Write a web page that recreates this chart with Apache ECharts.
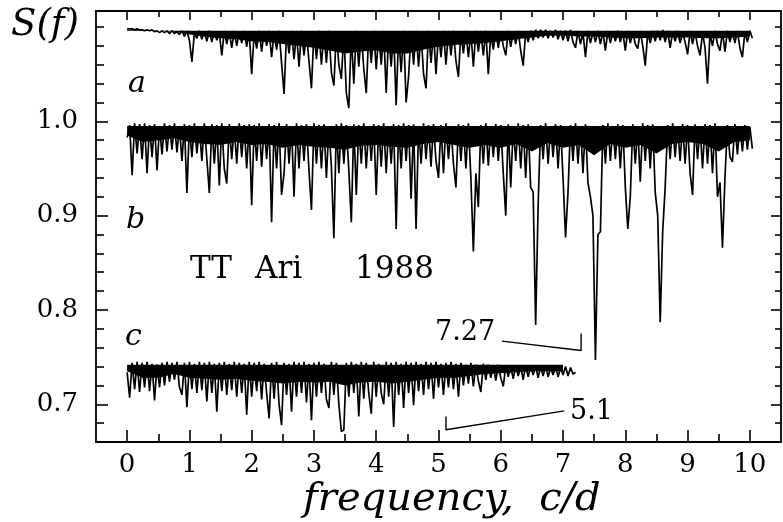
<!DOCTYPE html>
<html>
<head>
<meta charset="utf-8">
<script src="https://cdn.jsdelivr.net/npm/echarts@6/dist/echarts.min.js"></script>
<style>
  html, body { margin: 0; padding: 0; background: #fff; }
  #chart { width: 783px; height: 522px; }
</style>
</head>
<body>
<div id="chart"></div>
<script>
// frequency step of the read-off samples (c/d)
var STEP = 0.04;
// coarser step for the lower edge of the solid black core of each band
var CORE_STEP = 0.25;

// trace a, sampled from f = 0 every STEP
var traceA = [
  1.098,1.098,1.098,1.097,1.098,1.097,1.097,1.096,1.097,1.096,
  1.097,1.095,1.096,1.094,1.096,1.094,1.096,1.093,1.096,1.093,
  1.095,1.092,1.096,1.090,1.096,1.086,1.063,1.094,1.088,1.096,
  1.087,1.095,1.085,1.096,1.084,1.095,1.086,1.094,1.070,1.096,
  1.082,1.095,1.078,1.096,1.080,1.094,1.083,1.096,1.079,1.095,
  1.050,1.094,1.077,1.096,1.074,1.095,1.080,1.096,1.068,1.094,
  1.076,1.096,1.062,1.029,1.094,1.072,1.096,1.066,1.094,1.058,
  1.096,1.070,1.093,1.064,1.035,1.095,1.066,1.096,1.060,1.094,
  1.062,1.096,1.052,1.038,1.095,1.060,1.045,1.094,1.030,1.014,
  1.093,1.040,1.096,1.058,1.094,1.056,1.030,1.095,1.062,1.096,
  1.055,1.094,1.060,1.096,1.030,1.094,1.058,1.095,1.017,1.093,
  1.052,1.096,1.020,1.048,1.095,1.060,1.096,1.058,1.094,1.050,
  1.035,1.096,1.062,1.095,1.050,1.094,1.068,1.096,1.060,1.095,
  1.070,1.096,1.064,1.047,1.095,1.072,1.096,1.068,1.094,1.058,
  1.096,1.074,1.095,1.070,1.096,1.050,1.094,1.076,1.096,1.078,
  1.095,1.080,1.070,1.096,1.079,1.094,1.082,1.096,1.075,1.059,
  1.095,1.084,1.096,1.086,1.097,1.088,1.097,1.089,1.097,1.088,
  1.096,1.089,1.097,1.087,1.096,1.086,1.096,1.085,1.097,1.084,
  1.078,1.096,1.082,1.094,1.068,1.096,1.083,1.095,1.084,1.096,
  1.082,1.095,1.075,1.096,1.083,1.095,1.085,1.096,1.084,1.095,
  1.075,1.096,1.083,1.095,1.082,1.077,1.096,1.080,1.059,1.094,
  1.083,1.096,1.085,1.096,1.086,1.097,1.084,1.096,1.078,1.095,
  1.085,1.096,1.083,1.095,1.084,1.071,1.096,1.082,1.095,1.080,
  1.070,1.094,1.078,1.040,1.093,1.080,1.096,1.082,1.075,1.095,
  1.074,1.096,1.084,1.095,1.083,1.096,1.078,1.068,1.095,1.084,
  1.096,1.088
];

// trace b, sampled from f = 0 every STEP
var traceB = [
  0.983,0.996,0.943,0.998,0.966,0.997,0.960,0.998,0.945,0.996,
  0.962,0.997,0.948,0.995,0.965,0.998,0.968,0.996,0.970,0.998,
  0.967,0.995,0.958,0.997,0.924,0.996,0.962,0.998,0.966,0.995,
  0.958,0.998,0.960,0.924,0.997,0.955,0.996,0.932,0.998,0.950,
  0.934,0.997,0.960,0.995,0.955,0.998,0.962,0.996,0.950,0.997,
  0.911,0.996,0.958,0.998,0.952,0.995,0.960,0.997,0.893,0.996,
  0.950,0.998,0.922,0.945,0.997,0.955,0.995,0.920,0.998,0.950,
  0.996,0.958,0.997,0.948,0.906,0.998,0.955,0.996,0.950,0.997,
  0.940,0.995,0.952,0.876,0.997,0.945,0.998,0.955,0.996,0.948,
  0.893,0.997,0.922,0.996,0.955,0.998,0.950,0.995,0.958,0.997,
  0.922,0.996,0.952,0.998,0.945,0.995,0.955,0.997,0.886,0.996,
  0.950,0.998,0.958,0.996,0.918,0.997,0.886,0.995,0.955,0.998,
  0.960,0.996,0.952,0.997,0.958,0.940,0.996,0.945,0.998,0.960,
  0.995,0.955,0.930,0.997,0.958,0.996,0.950,0.998,0.940,0.862,
  0.945,0.909,0.996,0.955,0.998,0.953,0.995,0.962,0.997,0.958,
  0.996,0.945,0.900,0.997,0.930,0.995,0.958,0.998,0.950,0.996,
  0.940,0.997,0.930,0.925,0.784,0.911,0.996,0.960,0.998,0.955,
  0.995,0.962,0.997,0.950,0.996,0.940,0.877,0.925,0.996,0.958,
  0.998,0.955,0.995,0.945,0.997,0.935,0.920,0.900,0.747,0.880,
  0.883,0.996,0.955,0.998,0.958,0.995,0.960,0.997,0.950,0.996,
  0.930,0.886,0.920,0.997,0.955,0.995,0.936,0.998,0.958,0.996,
  0.950,0.997,0.925,0.900,0.787,0.883,0.930,0.996,0.960,0.998,
  0.962,0.995,0.958,0.997,0.955,0.996,0.945,0.922,0.997,0.960,
  0.995,0.950,0.997,0.955,0.996,0.945,0.998,0.920,0.935,0.866,
  0.940,0.996,0.962,0.957,0.997,0.965,0.995,0.968,0.996,0.970,
  0.994,0.971
];

// trace c, sampled from f = 0 every STEP
var traceC = [
  0.734,0.707,0.744,0.716,0.745,0.713,0.744,0.718,0.745,0.714,
  0.743,0.704,0.742,0.718,0.744,0.720,0.745,0.724,0.744,0.726,
  0.745,0.718,0.710,0.744,0.697,0.745,0.716,0.743,0.712,0.745,
  0.715,0.744,0.703,0.745,0.712,0.743,0.692,0.744,0.714,0.745,
  0.710,0.743,0.715,0.745,0.708,0.744,0.712,0.743,0.689,0.745,
  0.708,0.744,0.714,0.745,0.705,0.743,0.712,0.685,0.744,0.706,
  0.745,0.700,0.678,0.744,0.710,0.743,0.692,0.745,0.708,0.744,
  0.712,0.745,0.702,0.743,0.683,0.744,0.708,0.745,0.712,0.743,
  0.705,0.696,0.745,0.710,0.744,0.700,0.671,0.673,0.744,0.708,
  0.745,0.712,0.743,0.687,0.745,0.706,0.744,0.712,0.690,0.745,
  0.708,0.743,0.712,0.700,0.745,0.708,0.744,0.676,0.745,0.710,
  0.743,0.696,0.745,0.712,0.744,0.699,0.745,0.714,0.743,0.710,
  0.745,0.716,0.744,0.706,0.745,0.718,0.743,0.710,0.744,0.718,
  0.745,0.716,0.743,0.708,0.744,0.720,0.742,0.722,0.744,0.719,
  0.742,0.725,0.713,0.743,0.726,0.742,0.728,0.741,0.725,0.742,
  0.728,0.719,0.741,0.729,0.740,0.727,0.741,0.730,0.740,0.726,
  0.741,0.729,0.740,0.731,0.741,0.728,0.740,0.730,0.741,0.729,
  0.739,0.731,0.740,0.729,0.739,0.731,0.740,0.730,0.739,0.732,
  0.734
];

// lower edge of the solid black core of each band, every CORE_STEP from f = 0
var coreA = [
  1.097,1.097,1.096,1.095,1.092,1.090,1.088,1.087,1.085,1.084,
  1.082,1.080,1.078,1.075,1.072,1.074,1.075,1.072,1.072,1.076,
  1.079,1.081,1.082,1.083,1.085,1.087,1.089,1.091,1.091,1.090,
  1.090,1.089,1.088,1.088,1.089,1.089,1.089,1.088,1.088,1.089,
  1.090
];
var coreB = [
  0.985,0.978,0.980,0.982,0.978,0.976,0.975,0.978,0.975,0.976,
  0.972,0.975,0.973,0.972,0.970,0.974,0.975,0.973,0.972,0.976,
  0.978,0.975,0.972,0.975,0.972,0.976,0.968,0.977,0.972,0.975,
  0.964,0.976,0.972,0.975,0.966,0.976,0.978,0.976,0.968,0.978,
  0.980
];
var coreC = [
  0.735,0.728,0.728,0.732,0.728,0.727,0.726,0.727,0.725,0.724,
  0.722,0.724,0.723,0.724,0.720,0.723,0.724,0.722,0.724,0.726,
  0.728,0.728,0.730,0.732,0.733,0.734,0.735,0.735,0.735
];
// upper level the cores are filled to
var coreTop = { a: 1.096, b: 0.995, c: 0.742 };

// axis ticks
var xMajor = [0,1,2,3,4,5,6,7,8,9,10];
var xMinor = [0.5,1.5,2.5,3.5,4.5,5.5,6.5,7.5,8.5,9.5];
var yMajor = [0.7,0.8,0.9,1.0];
var yMinor = [0.68,0.72,0.74,0.76,0.78,0.82,0.84,0.86,0.88,0.92,0.94,0.96,0.98,1.02,1.04,1.06,1.08,1.10];

// leader lines of the two notes
var lead727 = [[6.02,0.767],[7.29,0.757],[7.29,0.775]];
var lead51 = [[7.02,0.693],[5.12,0.673],[5.12,0.687]];

function toPairs(arr, step) {
  return arr.map(function (v, i) { return [+(i * step).toFixed(2), v]; });
}

var serif = 'DejaVu Serif';
var black = '#000';

function xAx(pos, ticks, len, showLine, showLabel) {
  return {
    type: 'value', position: pos, min: -0.5, max: 10.5,
    axisLine: { show: showLine, onZero: false, lineStyle: { color: black, width: 1.8 } },
    axisTick: { show: true, inside: true, length: len, customValues: ticks, lineStyle: { color: black, width: 1.6 } },
    axisLabel: {
      show: showLabel, customValues: xMajor, margin: 10,
      fontFamily: serif, fontSize: 26, color: black
    },
    splitLine: { show: false }
  };
}

function yAx(pos, ticks, len, showLine, showLabel) {
  return {
    type: 'value', position: pos, min: 0.66, max: 1.117,
    axisLine: { show: showLine, onZero: false, lineStyle: { color: black, width: 1.8 } },
    axisTick: { show: true, inside: true, length: len, customValues: ticks, lineStyle: { color: black, width: 1.6 } },
    axisLabel: {
      show: showLabel, customValues: yMajor, margin: 18,
      fontFamily: serif, fontSize: 26, color: black,
      formatter: function (v) { return v.toFixed(1); }
    },
    splitLine: { show: false }
  };
}

function trace(data) {
  return {
    type: 'line', data: data, showSymbol: false, sampling: false,
    lineStyle: { color: black, width: 1.7 }, silent: true, z: 3
  };
}

function core(data, top) {
  return {
    type: 'line', data: data, showSymbol: false, silent: true, z: 2,
    lineStyle: { width: 0 },
    areaStyle: { origin: top, color: black, opacity: 1 }
  };
}

function txt(x, y, s, size, italic, align) {
  return {
    type: 'text', x: x, y: y,
    style: {
      text: s, fill: black, font: (italic ? 'italic ' : '') + size + 'px "DejaVu Serif"',
      textAlign: align || 'left', textVerticalAlign: 'middle'
    }
  };
}

var chart = echarts.init(document.getElementById('chart'), null, { renderer: 'canvas' });

chart.setOption({
  animation: false,
  backgroundColor: '#fff',
  grid: { left: 96, right: 2, top: 11, bottom: 80 },
  xAxis: [
    xAx('bottom', xMajor, 12, true, true),
    xAx('bottom', xMinor, 8, false, false),
    xAx('top', xMajor, 9, true, false),
    xAx('top', xMinor, 6, false, false)
  ],
  yAxis: [
    yAx('left', yMajor, 12, true, true),
    yAx('left', yMinor, 8, false, false),
    yAx('right', yMajor, 10, true, false),
    yAx('right', yMinor, 6, false, false)
  ],
  series: [
    core(toPairs(coreA, CORE_STEP), coreTop.a),
    core(toPairs(coreB, CORE_STEP), coreTop.b),
    core(toPairs(coreC, CORE_STEP), coreTop.c),
    trace(toPairs(traceA, STEP)),
    trace(toPairs(traceB, STEP)),
    trace(toPairs(traceC, STEP)),
    { type: 'line', data: lead727, showSymbol: false, lineStyle: { color: black, width: 1.4 } },
    { type: 'line', data: lead51, showSymbol: false, lineStyle: { color: black, width: 1.4 } }
  ],
  graphic: [
    txt(45, 25, 'S(f)', 37, true, 'center'),
    txt(128, 84, 'a', 30, true),
    txt(126, 220, 'b', 30, true),
    txt(125, 337, 'c', 30, true),
    txt(190, 270, 'TT', 31),
    txt(255, 270, 'Ari', 31),
    txt(355, 270, '1988', 31),
    txt(435, 333, '7.27', 27),
    txt(570, 412, '5.1', 27),
    txt(303, 500, 'frequency,  c/d', 40, true)
  ]
});
</script>
</body>
</html>
